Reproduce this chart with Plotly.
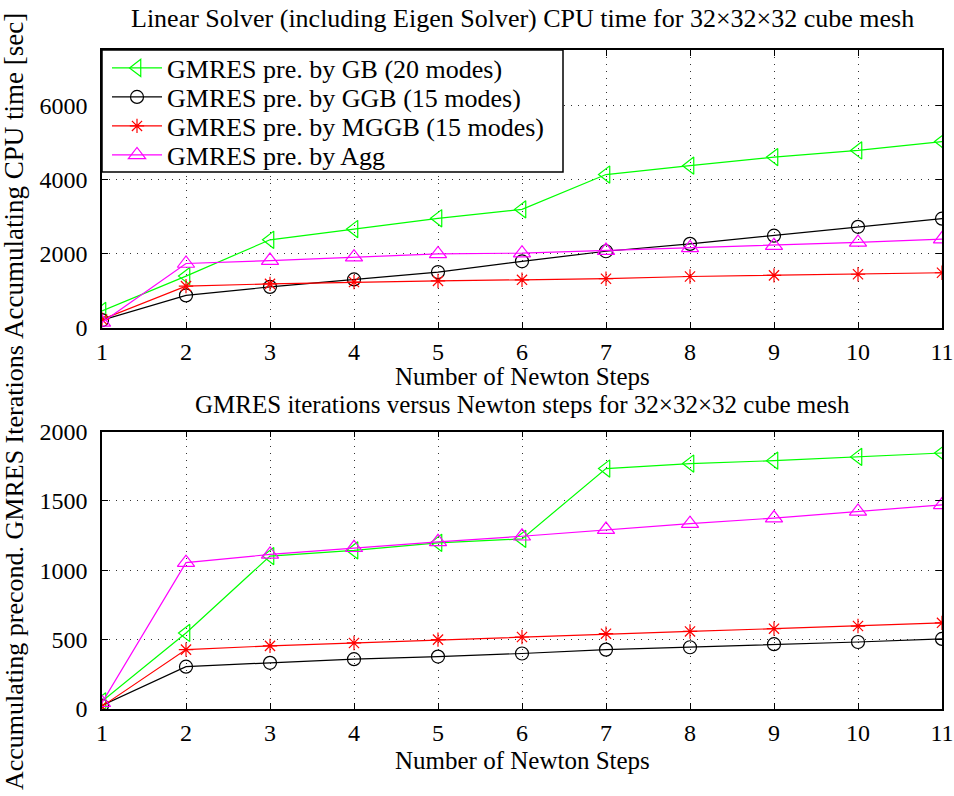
import plotly.graph_objects as go

# Newton steps
steps = [1, 2, 3, 4, 5, 6, 7, 8, 9, 10, 11]

# Accumulated CPU time [sec] of the linear solver (incl. eigen solver)
cpu_gb = [460, 1400, 2380, 2670, 2960, 3200, 4140, 4380, 4610, 4790, 5030]
cpu_ggb = [210, 880, 1110, 1310, 1510, 1800, 2070, 2270, 2490, 2730, 2950]
cpu_mggb = [230, 1130, 1190, 1240, 1270, 1300, 1330, 1390, 1420, 1450, 1490]
cpu_agg = [150, 1740, 1820, 1910, 2000, 2020, 2090, 2160, 2220, 2310, 2400]

# Accumulated preconditioned GMRES iterations
it_gb = [55, 548, 1102, 1143, 1198, 1226, 1733, 1769, 1790, 1817, 1845]
it_ggb = [25, 305, 333, 359, 378, 400, 428, 445, 467, 483, 505]
it_mggb = [19, 428, 455, 476, 500, 519, 543, 559, 579, 598, 621]
it_agg = [45, 1055, 1114, 1162, 1205, 1245, 1293, 1336, 1376, 1424, 1471]

names = ["GMRES pre. by GB (20 modes)", "GMRES pre. by GGB (15 modes)",
         "GMRES pre. by MGGB (15 modes)", "GMRES pre. by Agg"]
colors = ["#00ff00", "#000000", "#ff0000", "#ff00ff"]
symbols = ["triangle-left-open", "circle-open", "asterisk-open", "triangle-up-open"]
msizes = [15, 13, 12, 15]

top_ticks = [0, 2000, 4000, 6000]
bot_ticks = [0, 500, 1000, 1500, 2000]

W, H = 954, 796
FONT = "Liberation Serif"


def px_x(x):
    return x / W


def px_y(y):
    return 1 - y / H


fig = go.Figure()

legend_ids = ["legend", "legend2", "legend3", "legend4"]
legend_rows = [68, 97, 126, 155]

for i, (cpu, it) in enumerate(zip([cpu_gb, cpu_ggb, cpu_mggb, cpu_agg],
                                  [it_gb, it_ggb, it_mggb, it_agg])):
    style = dict(mode="lines+markers",
                 line=dict(color=colors[i], width=1.2),
                 marker=dict(symbol=symbols[i], size=msizes[i], color=colors[i],
                             line=dict(color=colors[i], width=1.2)))
    fig.add_trace(go.Scatter(x=steps, y=cpu, name=names[i], xaxis="x", yaxis="y",
                             showlegend=True, legend=legend_ids[i], **style))
    fig.add_trace(go.Scatter(x=steps, y=it, name=names[i], xaxis="x2", yaxis="y2",
                             showlegend=False, **style))

xdom = [px_x(102), px_x(942)]
axis_common = dict(
    showline=True, linecolor="black", linewidth=1.5, mirror="ticks",
    ticks="inside", ticklen=6, tickcolor="black", tickwidth=1,
    showgrid=True, gridcolor="#333333", gridwidth=1, griddash="1px,6px",
    zeroline=False, automargin=False,
    tickfont=dict(family=FONT, size=24, color="black"),
)
xaxis_common = dict(axis_common, ticklabelstandoff=1)
yaxis_common = dict(axis_common, ticklabelstandoff=8)

legend_common = dict(xanchor="left", yanchor="middle", bgcolor="rgba(0,0,0,0)",
                     borderwidth=0, font=dict(family=FONT, size=26, color="black"),
                     itemwidth=50, tracegroupgap=0)

fig.update_layout(
    width=W, height=H, template="none",
    margin=dict(l=0, r=0, t=0, b=0, pad=0, autoexpand=False),
    paper_bgcolor="white", plot_bgcolor="white",
    font=dict(family=FONT, color="black"),
    xaxis=dict(domain=xdom, anchor="y", range=[1, 11], tickvals=steps, **xaxis_common),
    yaxis=dict(domain=[px_y(328), px_y(50)], anchor="x", range=[0, 7500],
               tickvals=top_ticks, **yaxis_common),
    xaxis2=dict(domain=xdom, anchor="y2", range=[1, 11], tickvals=steps, **xaxis_common),
    yaxis2=dict(domain=[px_y(709), px_y(431.5)], anchor="x2", range=[0, 2000],
                tickvals=bot_ticks, **yaxis_common),
    showlegend=True,
)
for lid, row in zip(legend_ids, legend_rows):
    fig.update_layout({lid: dict(x=px_x(107), y=px_y(row), **legend_common)})

# Legend frame
fig.add_shape(type="rect", xref="paper", yref="paper",
              x0=px_x(102), x1=px_x(563), y0=px_y(172), y1=px_y(50),
              line=dict(color="black", width=1.5), fillcolor="white", layer="above")

texts = [
    ("Linear Solver (including Eigen Solver) CPU time for 32×32×32 cube mesh", 522, 18, 26),
    ("Number of Newton Steps", 522, 376, 25),
    ("GMRES iterations versus Newton steps for 32×32×32 cube mesh", 522, 405, 25),
    ("Number of Newton Steps", 522, 760, 25),
]
for t, x, y, s in texts:
    fig.add_annotation(text=t, xref="paper", yref="paper", x=px_x(x), y=px_y(y),
                       xanchor="center", yanchor="middle", showarrow=False,
                       font=dict(family=FONT, size=s, color="black"))

fig.add_annotation(text="Accumulating CPU time [sec]", xref="paper", yref="paper",
                   x=px_x(14), y=px_y(176), xanchor="center", yanchor="middle",
                   textangle=-90, showarrow=False,
                   font=dict(family=FONT, size=27, color="black"))
fig.add_annotation(text="Accumulating precond. GMRES Iterations", xref="paper", yref="paper",
                   x=px_x(14), y=px_y(568), xanchor="center", yanchor="middle",
                   textangle=-90, showarrow=False,
                   font=dict(family=FONT, size=26, color="black"))

fig.write_html("out.html")
